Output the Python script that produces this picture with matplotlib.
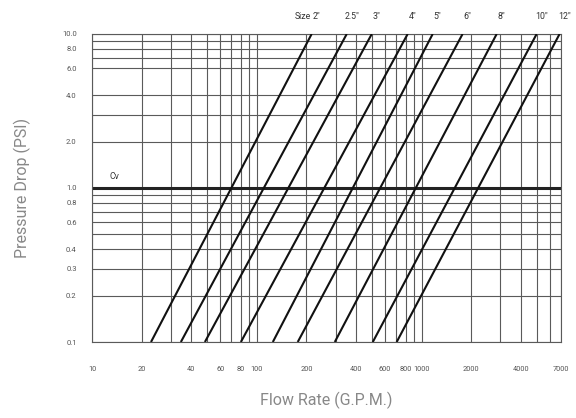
"""Valve sizing chart: pressure drop vs flow rate for each valve size."""

import matplotlib

matplotlib.use("Agg")
import matplotlib.pyplot as plt
from matplotlib.ticker import FixedLocator, NullFormatter, NullLocator

FONT = ["Roboto", "DejaVu Sans"]

SIZES = ['2"', '2.5"', '3"', '4"', '5"', '6"', '8"', '10"', '12"']
# flow (GPM) where each size line meets 0.1 PSI and 10 PSI
FLOW_AT_LOW = [22.8, 34.6, 48.4, 80, 125, 177, 297, 505, 705]
FLOW_AT_HIGH = [215, 351, 498, 822, 1166, 1770, 2850, 4980, 6860]
DP_LOW, DP_HIGH = 0.1, 10.0

X_TICKS = [10, 20, 40, 60, 80, 100, 200, 400, 600, 800, 1000, 2000, 4000, 7000]
Y_TICKS = [0.1, 0.2, 0.3, 0.4, 0.6, 0.8, 1.0, 2.0, 4.0, 6.0, 8.0, 10.0]
Y_TICK_LABELS = ["0.1", "0.2", "0.3", "0.4", "0.6", "0.8", "1.0",
                 "2.0", "4.0", "6.0", "8.0", "10.0"]

X_GRID = ([10, 20, 30, 40, 50, 60, 70, 80, 90]
          + [100, 200, 300, 400, 500, 600, 700, 800, 900]
          + [1000, 2000, 3000, 4000, 5000, 6000, 7000])
Y_GRID = ([0.1, 0.2, 0.3, 0.4, 0.5, 0.6, 0.7, 0.8, 0.9]
          + [1, 2, 3, 4, 6, 7, 8, 9, 10])

fig = plt.figure(figsize=(5.76, 4.18), dpi=100)
ax = fig.add_axes([0.1597, 0.1818, 0.8143, 0.7369])
ax.set_xscale("log")
ax.set_yscale("log")
ax.set_xlim(10, 7000)
ax.set_ylim(0.1, 10)

grid_color = "#5a5a5a"
for x in X_GRID:
    ax.axvline(x, color=grid_color, lw=0.8, zorder=1)
for y in Y_GRID:
    ax.axhline(y, color=grid_color, lw=0.8, zorder=1)
ax.axhline(1.0, color="#222222", lw=2.2, zorder=2)

for lo, hi in zip(FLOW_AT_LOW, FLOW_AT_HIGH):
    ax.plot([lo, hi], [DP_LOW, DP_HIGH], color="#111111", lw=1.5,
            solid_capstyle="butt", zorder=3)

for spine in ax.spines.values():
    spine.set_color(grid_color)
    spine.set_linewidth(0.8)

ax.xaxis.set_major_locator(FixedLocator(X_TICKS))
ax.xaxis.set_minor_locator(NullLocator())
ax.xaxis.set_minor_formatter(NullFormatter())
ax.set_xticklabels([str(t) for t in X_TICKS])
ax.yaxis.set_major_locator(FixedLocator(Y_TICKS))
ax.yaxis.set_minor_locator(NullLocator())
ax.yaxis.set_minor_formatter(NullFormatter())
ax.set_yticklabels(Y_TICK_LABELS)
ax.tick_params(axis="x", length=0, pad=17, labelsize=5.3, labelcolor="#555555")
ax.tick_params(axis="y", length=0, pad=11, labelsize=5.5, labelcolor="#555555")
for lab in ax.get_xticklabels() + ax.get_yticklabels():
    lab.set_family(FONT)

# size labels above the chart
for name, hi in zip(SIZES, FLOW_AT_HIGH):
    ax.text(hi * 1.07, 13.0, name, ha="center", va="center", fontsize=6.3,
            color="#333333", family=FONT, clip_on=False)
ax.text(FLOW_AT_HIGH[0] * 1.07 * 0.92, 13.0, "Size", ha="right", va="center",
        fontsize=6.3, color="#333333", family=FONT, clip_on=False)
ax.text(13.6, 1.18, "Cv", ha="center", va="center", fontsize=6.3,
        color="#333333", family=FONT)

ax.set_xlabel("Flow Rate (G.P.M.)", fontsize=11.5, color="#888888",
              family=FONT, labelpad=14)
ax.set_ylabel("Pressure Drop (PSI)", fontsize=11.5, color="#888888",
              family=FONT, labelpad=22)

fig.savefig("out.png", dpi=100)
plt.close(fig)
